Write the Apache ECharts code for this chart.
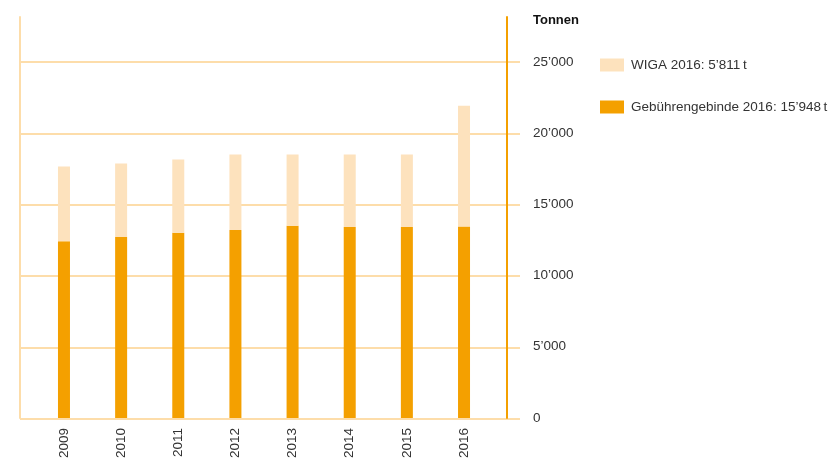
<!DOCTYPE html>
<html><head><meta charset="utf-8">
<script src="https://cdn.jsdelivr.net/npm/echarts@6/dist/echarts.min.js"></script>
<style>html,body{margin:0;padding:0;background:#fff}#c{width:831px;height:461px}</style>
</head><body><div id="c"></div>
<script>
var years = ['2009','2010','2011','2012','2013','2014','2015','2016'];
var gebuehren = [12400, 12700, 13000, 13200, 13500, 13400, 13400, 13450];
var wiga = [5250, 5160, 5140, 5290, 4990, 5090, 5090, 8470];
var tickValues = [0, 5000, 10000, 15000, 20000, 25000];
var legendNames = ['WIGA 2016: 5\u2019811\u2009t', 'Geb\u00fchrengebinde 2016: 15\u2019948\u2009t'];

function fmt(v){ if (tickValues.indexOf(v) < 0) return ''; var s = String(v); return s.length > 3 ? s.slice(0, s.length-3) + '\u2019' + s.slice(-3) : s; }

var FONT = 'Liberation Sans';
var chart = echarts.init(document.getElementById('c'), null, {renderer:'canvas'});
chart.setOption({
  animation: false,
  textStyle: {fontFamily: FONT},
  title: {text: 'Tonnen', left: 528, top: 9, textStyle: {fontSize: 13, fontWeight: 'bold', color: '#111', fontFamily: FONT}},
  legend: {
    orient: 'vertical', left: 595, top: 53, itemWidth: 24, itemHeight: 13, itemGap: 28,
    icon: 'rect', data: legendNames,
    textStyle: {fontSize: 13.5, color: '#333', fontFamily: FONT, padding: [0,0,0,2]}
  },
  grid: [
    {left: 35.4, right: 338.4, top: 17, bottom: 42},
    {left: 20, right: 311, top: 62, bottom: 42}
  ],
  xAxis: [
    {type: 'category', gridIndex: 0, data: years, boundaryGap: true,
     axisLine: {show: false}, axisTick: {show: false},
     axisLabel: {rotate: 90, margin: 10, fontSize: 13.5, color: '#333'}},
    {type: 'value', gridIndex: 1, show: false, min: 0, max: 1}
  ],
  yAxis: [
    {type: 'value', gridIndex: 0, position: 'right', offset: 14.4, min: 0, max: 28150, interval: 5000,
     axisLine: {show: true, lineStyle: {color: '#F4A000', width: 2}},
     axisTick: {show: false}, splitLine: {show: false},
     axisLabel: {margin: 26, fontSize: 13.5, color: '#333', formatter: fmt}},
    {type: 'value', gridIndex: 0, position: 'left', offset: 15.4, min: 0, max: 28150,
     axisLine: {show: true, lineStyle: {color: '#FDDDAA', width: 2}},
     axisTick: {show: false}, splitLine: {show: false}, axisLabel: {show: false}},
    {type: 'value', gridIndex: 1, min: 0, max: 25000, interval: 5000,
     axisLine: {show: false}, axisTick: {show: false}, axisLabel: {show: false},
     splitLine: {show: true, lineStyle: {color: '#FDDDAA', width: 2}}}
  ],
  series: [
    {name: legendNames[1], type: 'bar', stack: 'total', xAxisIndex: 0, yAxisIndex: 0, barWidth: 12,
     data: gebuehren, itemStyle: {color: '#F4A000'}, z: 5},
    {name: legendNames[0], type: 'bar', stack: 'total', xAxisIndex: 0, yAxisIndex: 0, barWidth: 12,
     data: wiga, itemStyle: {color: '#FDE2BD'}, z: 5}
  ]
});
</script></body></html>
